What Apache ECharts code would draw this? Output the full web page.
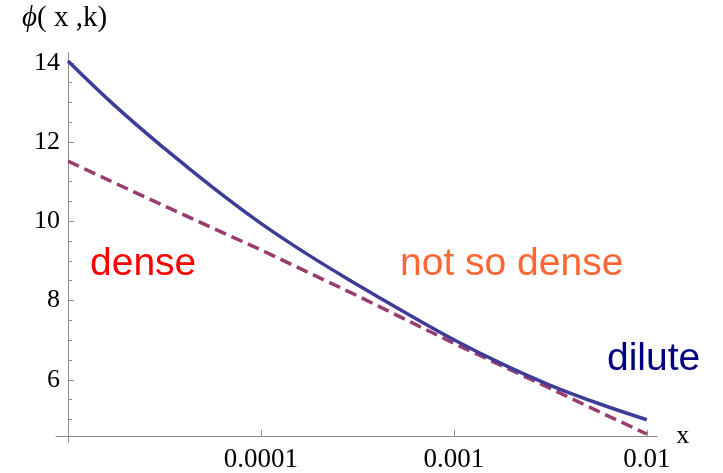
<!DOCTYPE html>
<html>
<head>
<meta charset="UTF-8">
<title>phi(x,k)</title>
<script src="https://cdn.jsdelivr.net/npm/echarts@6/dist/echarts.min.js"></script>
<style>
  html, body { margin: 0; padding: 0; background: #fff; }
  #main { width: 723px; height: 473px; }
</style>
</head>
<body>
<div id="main"></div>
<script>
// x values (log spaced, read at quarter decades)
const xs = [1e-5, 1.778e-5, 3.162e-5, 5.623e-5, 1e-4, 1.778e-4, 3.162e-4, 5.623e-4,
            1e-3, 1.778e-3, 3.162e-3, 5.623e-3, 1e-2];
// solid curve
const phiFull = [14.05, 12.89, 11.84, 10.86, 9.95, 9.14, 8.40, 7.69, 7.01, 6.40, 5.86, 5.40, 4.99];
// dashed approximation
const phiApprox = [11.52, 10.95, 10.39, 9.83, 9.28, 8.70, 8.12, 7.52, 6.92, 6.35, 5.78, 5.20, 4.63];

const xTickValues = [1e-4, 1e-3, 1e-2];
const xTickLabels = ['0.0001', '0.001', '0.01'];
const yMajor = [6, 8, 10, 12, 14];
const yMinor = [5, 5.5, 6.5, 7, 7.5, 8.5, 9, 9.5, 10.5, 11, 11.5, 12.5, 13, 13.5];

const xMin = -5, xMax = -1.947;
const yMin = 4.58, yMax = 14.25;
const axisGray = '#8c8c8c';
const serif = '"Liberation Serif", "DejaVu Serif", serif';
const sans = '"Liberation Sans", Arial, sans-serif';

const toPairs = ys => xs.map((x, i) => [Math.log10(x), ys[i]]);
const tickLogs = xTickValues.map(v => Math.log10(v));

const chart = echarts.init(document.getElementById('main'));

const option = {
  backgroundColor: '#fff',
  animation: false,
  grid: [
    { left: 68, right: 66, top: 53, bottom: 37 },
    // extensions of the axis lines past the corner
    { left: 56, right: 66, top: 53, bottom: 37 },
    { left: 68, right: 66, top: 53, bottom: 31 }
  ],
  xAxis: [
    {
      gridIndex: 0, type: 'value', min: xMin, max: xMax,
      name: 'x', nameLocation: 'end', nameGap: 17,
      nameTextStyle: { fontFamily: serif, fontSize: 26, color: '#000', verticalAlign: 'middle', padding: [6, 0, 0, 0] },
      splitLine: { show: false },
      axisLine: { show: true, lineStyle: { color: axisGray, width: 1 } },
      axisTick: { show: true, inside: true, length: 6, customValues: tickLogs,
                  lineStyle: { color: axisGray } },
      axisLabel: {
        customValues: tickLogs, margin: 10,
        fontFamily: serif, fontSize: 27, color: '#000',
        formatter: v => {
          const i = tickLogs.findIndex(t => Math.abs(t - v) < 1e-6);
          return i >= 0 ? xTickLabels[i] : '';
        }
      }
    },
    {
      gridIndex: 1, type: 'value', min: 0, max: 1,
      axisLine: { show: true, lineStyle: { color: axisGray, width: 1 } },
      axisTick: { show: false }, axisLabel: { show: false }, splitLine: { show: false }
    },
    {
      gridIndex: 2, type: 'value', min: 0, max: 1, show: false
    }
  ],
  yAxis: [
    {
      gridIndex: 0, type: 'value', position: 'left', min: yMin, max: yMax,
      splitLine: { show: false },
      axisLine: { show: true, lineStyle: { color: axisGray, width: 1 } },
      axisTick: { show: true, inside: true, length: 6, customValues: yMajor,
                  lineStyle: { color: axisGray } },
      axisLabel: {
        customValues: yMajor, margin: 8,
        fontFamily: serif, fontSize: 26, color: '#000'
      }
    },
    {
      gridIndex: 0, type: 'value', position: 'left', offset: 0, min: yMin, max: yMax,
      splitLine: { show: false },
      axisLine: { show: false },
      axisTick: { show: true, inside: true, length: 4, customValues: yMinor,
                  lineStyle: { color: axisGray } },
      axisLabel: { show: false }
    },
    {
      gridIndex: 1, type: 'value', min: 0, max: 1, show: false
    },
    {
      gridIndex: 2, type: 'value', min: 0, max: 1,
      axisLine: { show: true, lineStyle: { color: axisGray, width: 1 } },
      axisTick: { show: false }, axisLabel: { show: false }, splitLine: { show: false }
    }
  ],
  series: [
    {
      name: 'dashed', type: 'line', xAxisIndex: 0, yAxisIndex: 0,
      data: toPairs(phiApprox), showSymbol: false, smooth: false,
      lineStyle: { color: '#993d6e', width: 3.5, type: [12, 6] },
      z: 3
    },
    {
      name: 'solid', type: 'line', xAxisIndex: 0, yAxisIndex: 0,
      data: toPairs(phiFull), showSymbol: false, smooth: 0.4,
      lineStyle: { color: '#3d3d99', width: 3.5 },
      z: 4
    }
  ],
  graphic: [
    {
      type: 'text', left: 22, top: 4,
      style: {
        text: '{i|ϕ}( x ,k)',
        rich: { i: { fontFamily: serif, fontStyle: 'italic', fontSize: 29, fill: '#000' } },
        fontFamily: serif, fontSize: 29, fill: '#000'
      }
    },
    {
      type: 'text', left: 90, top: 245,
      style: { text: 'dense', fontFamily: sans, fontSize: 39, fill: '#ff0000' }
    },
    {
      type: 'text', left: 400, top: 245,
      style: { text: 'not so dense', fontFamily: sans, fontSize: 39, fill: '#ff6633' }
    },
    {
      type: 'text', left: 607, top: 340,
      style: { text: 'dilute', fontFamily: sans, fontSize: 39, fill: '#000080' }
    }
  ]
};

chart.setOption(option);
</script>
</body>
</html>
